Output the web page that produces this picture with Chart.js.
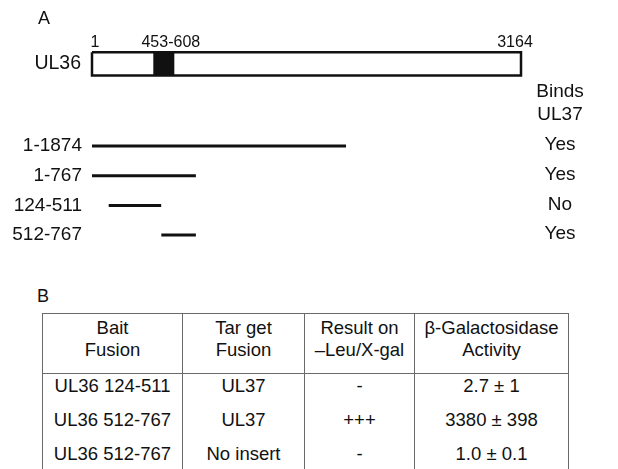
<!DOCTYPE html>
<html>
<head>
<meta charset="utf-8">
<script src="https://cdn.jsdelivr.net/npm/chart.js@4"></script>
<style>
  body { margin: 0; background: #fff; width: 618px; height: 469px; overflow: hidden; position: relative;
         font-family: "Liberation Sans", Arial, sans-serif; color: #111; }
  #mapCanvas { position: absolute; left: 0; top: 0; }
  #labelB { position: absolute; left: 37px; top: 286px; font-size: 18px; }
  #tbl { position: absolute; left: 42px; top: 313px; border-collapse: collapse; font-size: 18.5px;
         border: 1.5px solid #6a6a6a; table-layout: fixed; }
  #tbl td { border: 1.5px solid #6a6a6a; text-align: center; vertical-align: top; padding: 0; white-space: nowrap; }
  #tbl tr.head td { height: 56px; padding-top: 3px; line-height: 22px; }
  #tbl tr.body td { height: 31px; padding-top: 3px; line-height: 18px; border-top: none; border-bottom: none; }
</style>
</head>
<body>
<canvas id="mapCanvas" width="618" height="280"></canvas>
<div id="labelB">B</div>
<table id="tbl"></table>
<script>
// Panel A: UL36 en de fragmenten
var proteinLength = 3164;
var domainRange = [453, 608];
var fragmentLabels = ['1-1874', '1-767', '124-511', '512-767'];
var fragmentStart = [1, 1, 124, 512];
var fragmentEnd = [1874, 767, 511, 767];
var bindsUL37 = ['Yes', 'Yes', 'No', 'Yes'];

// Panel B: de tabel
var tableHeaders = [['Bait', 'Fusion'], ['Tar get', 'Fusion'], ['Result on', '\u2013Leu/X-gal'], ['\u03b2-Galactosidase', 'Activity']];
var baitFusion = ['UL36 124-511', 'UL36 512-767', 'UL36 512-767'];
var targetFusion = ['UL37', 'UL37', 'No insert'];
var resultLeuXgal = ['-', '+++', '-'];
var galActivity = ['2.7 \u00b1 1', '3380 \u00b1 398', '1.0 \u00b1 0.1'];

// posities op de y-as (rij-eenheden, fragmenten op rij 1..4)
var boxTop = -2.16, boxBottom = -1.37, boxRow = -1.77;
var FONT = '"Liberation Sans", Arial, sans-serif';

var datasets = [];
// domein 453-608, zwart gevuld
datasets.push({
    data: [{x: domainRange[0], y: boxTop}, {x: domainRange[1], y: boxTop},
           {x: domainRange[1], y: boxBottom}, {x: domainRange[0], y: boxBottom}, {x: domainRange[0], y: boxTop}],
    borderColor: '#111', backgroundColor: '#111', borderWidth: 0, fill: 'shape', order: 2
});
// omlijning van het hele eiwit
datasets.push({
    data: [{x: 1, y: boxTop}, {x: proteinLength, y: boxTop},
           {x: proteinLength, y: boxBottom}, {x: 1, y: boxBottom}, {x: 1, y: boxTop}],
    borderColor: '#111', borderWidth: 2.5, borderJoinStyle: 'miter', fill: false, order: 1
});
// de fragmenten
for (var i = 0; i < fragmentLabels.length; i++) {
    datasets.push({
        data: [{x: fragmentStart[i], y: i + 1}, {x: fragmentEnd[i], y: i + 1}],
        borderColor: '#111', borderWidth: 3, borderCapStyle: 'butt', fill: false, order: 1
    });
}

// teksten rond de kaart
var labelsPlugin = {
    id: 'labelsPlugin',
    afterDatasetsDraw: function (chart) {
        var c = chart.ctx, xs = chart.scales.x, ys = chart.scales.y;
        c.save();
        c.fillStyle = '#111';
        c.textBaseline = 'middle';

        c.font = '18px ' + FONT;
        c.textAlign = 'left';
        c.fillText('A', 38, ys.getPixelForValue(-3.28));

        c.font = '19.5px ' + FONT;
        c.textAlign = 'right';
        c.fillText('UL36', 81, ys.getPixelForValue(boxRow));

        c.font = '16px ' + FONT;
        var topY = ys.getPixelForValue(-2.47);
        c.textAlign = 'center';
        c.fillText('1', xs.getPixelForValue(1) + 3, topY);
        c.fillText(domainRange[0] + '-' + domainRange[1], xs.getPixelForValue((domainRange[0] + domainRange[1]) / 2) + 7, topY);
        c.fillText(String(proteinLength), xs.getPixelForValue(proteinLength) - 6, topY);

        c.font = '19px ' + FONT;
        var colX = 560;
        c.fillText('Binds', colX, ys.getPixelForValue(-0.82));
        c.fillText('UL37', colX, ys.getPixelForValue(-0.04));
        for (var i = 0; i < fragmentLabels.length; i++) {
            var y = ys.getPixelForValue(i + 1);
            c.textAlign = 'right';
            c.fillText(fragmentLabels[i], 82, y);
            c.textAlign = 'center';
            c.fillText(bindsUL37[i], colX, y - 1);
        }
        c.restore();
    }
};

var ctx = document.getElementById('mapCanvas').getContext('2d');
var chart = new Chart(ctx, {
    type: 'scatter',
    data: { datasets: datasets },
    options: {
        responsive: false,
        animation: false,
        devicePixelRatio: 1,
        showLine: true,
        clip: false,
        elements: { point: { radius: 0, hoverRadius: 0 }, line: { tension: 0 } },
        layout: { padding: { left: 92, right: 97, top: 0, bottom: 0 } },
        scales: {
            x: { type: 'linear', min: 1, max: proteinLength, display: false },
            y: { type: 'linear', min: -3.916, max: 5.512, reverse: true, display: false }
        },
        plugins: { legend: { display: false }, tooltip: { enabled: false } }
    },
    plugins: [labelsPlugin]
});

// tabel opbouwen
var tbl = document.getElementById('tbl');
var colWidths = [139, 121, 109, 153];
tbl.style.width = colWidths.reduce(function (a, b) { return a + b; }, 0) + 'px';
var head = document.createElement('tr');
head.className = 'head';
tableHeaders.forEach(function (h, j) {
    var td = document.createElement('td');
    td.style.width = colWidths[j] + 'px';
    td.innerHTML = h[0] + '<br>' + h[1];
    head.appendChild(td);
});
tbl.appendChild(head);
for (var r = 0; r < baitFusion.length; r++) {
    var tr = document.createElement('tr');
    tr.className = 'body';
    [baitFusion[r], targetFusion[r], resultLeuXgal[r], galActivity[r]].forEach(function (v) {
        var td = document.createElement('td');
        td.textContent = v;
        tr.appendChild(td);
    });
    tbl.appendChild(tr);
}
</script>
</body>
</html>
